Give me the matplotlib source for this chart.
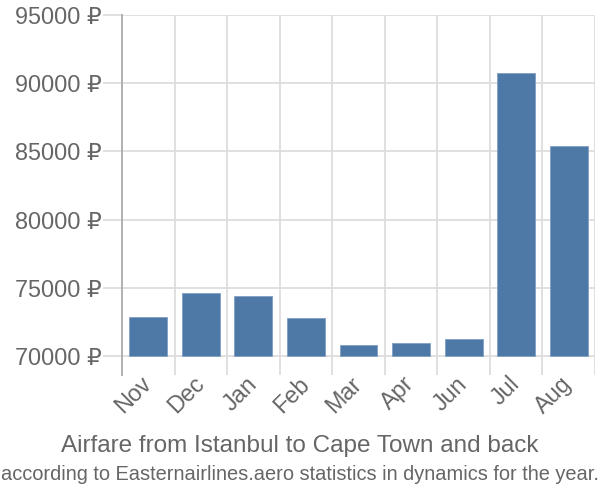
import matplotlib
matplotlib.use("Agg")
import matplotlib.pyplot as plt
import numpy as np

plt.rcParams['font.family'] = ['Liberation Sans', 'DejaVu Sans']

months = ["Nov", "Dec", "Jan", "Feb", "Mar", "Apr", "Jun", "Jul", "Aug"]
prices = [72880, 74600, 74400, 72810, 70810, 70930, 71220, 90730, 85420]
yticks = [70000, 75000, 80000, 85000, 90000, 95000]
title = "Airfare from Istanbul to Cape Town and back"
subtitle = "according to Easternairlines.aero statistics in dynamics for the year."

fig = plt.figure(figsize=(6, 5), dpi=100)
ax = fig.add_axes([122/600, 1-375/500, 473/600, 360/500])

base = 70000
x = np.arange(len(months))
ax.bar(x, np.array(prices) - base, bottom=base, width=0.72,
       color="#4e79a7", edgecolor="#7f9fc4", linewidth=0.6, zorder=3)

ax.set_xlim(-0.5, len(months) - 0.5)
ax.set_ylim(68607, 95000)

for v in yticks:
    ax.axhline(v, color="#dddddd", lw=1.3, zorder=1)
for b in np.arange(0.5, len(months) - 0.5 + 1e-9, 1.0):
    ax.axvline(b, color="#dddddd", lw=1.3, zorder=1)

ax.set_yticks(yticks)
ax.set_yticklabels([f"{v} ₽" for v in yticks], color="#666666", fontsize=16.8)
ax.tick_params(axis='y', length=13.7, color="#dddddd", width=1.3, pad=1)
ax.set_xticks(x)
ax.set_xticklabels(months, rotation=45, ha='right', va='center', rotation_mode='anchor',
                   color="#666666", fontsize=16.8)
ax.tick_params(axis='x', length=0, pad=4)

for s in ["top", "right", "bottom"]:
    ax.spines[s].set_visible(False)
ax.spines["left"].set_color("#aaaaaa")
ax.spines["left"].set_linewidth(1.3)

fig.text(0.5, 1-446/500, title, ha='center', va='center', color="#666666", fontsize=17.5)
fig.text(0.5, 1-475/500, subtitle, ha='center', va='center', color="#666666", fontsize=14.4)

fig.savefig("out.png", dpi=100)
